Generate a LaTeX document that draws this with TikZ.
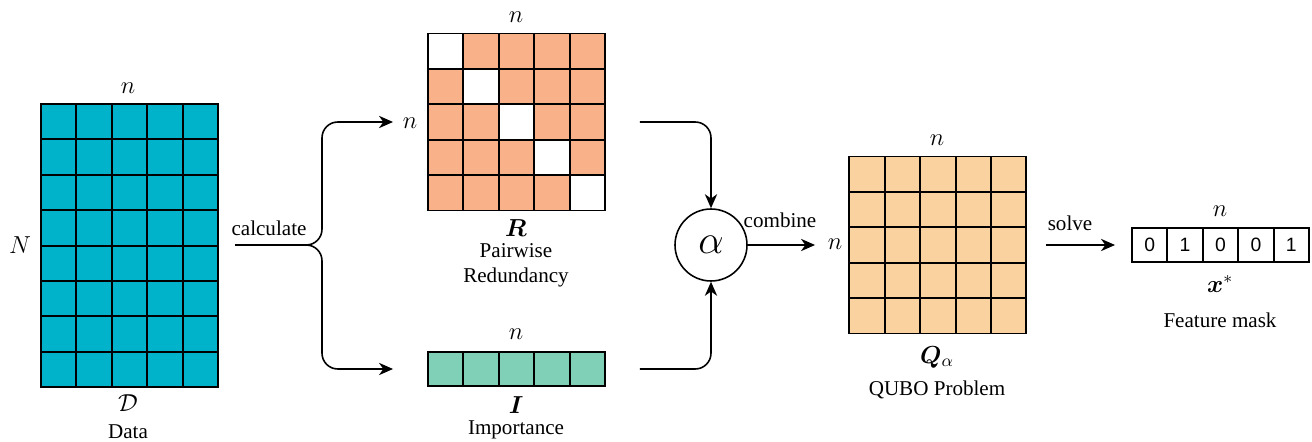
\documentclass[tikz,border=0pt]{standalone}
\usepackage{fix-cm}
\usepackage{amsmath}
\usepackage{bm}
\usepackage{fontspec}
\setmainfont{Liberation Serif}
\newfontfamily\digitfont{Liberation Sans}
\usetikzlibrary{arrows.meta}
\definecolor{datacol}{HTML}{00B2CA}
\definecolor{redcol}{HTML}{F8B188}
\definecolor{impcol}{HTML}{80D0B8}
\definecolor{qubocol}{HTML}{FAD2A0}
\tikzset{
  cellline/.style={black, line width=1.1pt},
  block/.style={draw, cellline, inner sep=0pt, outer sep=0pt},
  maskcell/.style={block, minimum width=0.708cm, minimum height=0.68cm, font=\digitfont\fontsize{11}{13}\selectfont},
  arrowline/.style={-{Stealth[length=8pt,width=7pt,inset=2.5pt]}, line width=0.9pt, rounded corners=9pt},
  lbl/.style={font=\fontsize{12}{14.2}\selectfont, align=center},
  mlbl/.style={font=\fontsize{14}{16}\selectfont},
}
\begin{document}
\begin{tikzpicture}[x=0.02cm, y=-0.02cm]
  \useasboundingbox (0,0) rectangle (1312,442);
  \def\cell{35.4}
  % data matrix
  \node[block, fill=datacol, minimum width=3.54cm, minimum height=5.664cm] (data) at (129.5,245.6) {};
  \foreach \i in {1,...,4} {
      \draw[cellline] (41+\i*\cell,104) -- (41+\i*\cell,387.2);
  }
  \foreach \j in {1,...,7} {
      \draw[cellline] (41,104+\j*\cell) -- (218,104+\j*\cell);
  }
  \node[mlbl] (datan) at (128,88) {$n$};
  \node[mlbl] (dataN) at (20,245) {$N$};
  \node[mlbl] (datasym) at (128,403) {$\mathcal{D}$};
  \node[lbl] (datatxt) at (128,432) {Data};
  % redundancy matrix
  \node[block, fill=redcol, minimum width=3.54cm, minimum height=3.54cm] (R) at (516.5,122) {};
  \foreach \k in {0,...,4} {
      \fill[white] (428+\k*\cell,33.5+\k*\cell) rectangle ++(\cell,\cell); % diagonal
  }
  \foreach \i in {1,...,4} {
      \draw[cellline] (428+\i*\cell,33.5) -- (428+\i*\cell,210.5);
      \draw[cellline] (428,33.5+\i*\cell) -- (605,33.5+\i*\cell);
  }
  \draw[cellline] (R.north west) rectangle (R.south east);
  \node[mlbl] (Rn) at (516,17) {$n$};
  \node[mlbl] (Rnl) at (410,123) {$n$};
  \node[mlbl] (Rsym) at (516,228) {$\bm{R}$};
  \node[lbl] (Rtxt) at (516,265) {Pairwise\\Redundancy};
  % importance vector
  \node[block, fill=impcol, minimum width=3.54cm, minimum height=0.68cm] (I) at (516.5,369) {};
  \foreach \i in {1,...,4} {
      \draw[cellline] (428+\i*\cell,352) -- (428+\i*\cell,386);
  }
  \node[mlbl] (In) at (516,334) {$n$};
  \node[mlbl] (Isym) at (516,405) {$\bm{I}$};
  \node[lbl] (Itxt) at (516,430) {Importance};
  % combination
  \node[circle, draw, line width=0.9pt, minimum size=1.44cm, inner sep=0pt,
        font=\fontsize{23}{27}\selectfont] (alpha) at (711,245) {$\alpha$};
  % QUBO matrix
  \node[block, fill=qubocol, minimum width=3.54cm, minimum height=3.54cm] (Q) at (937.5,245) {};
  \foreach \i in {1,...,4} {
      \draw[cellline] (849.5+\i*\cell,156.5) -- (849.5+\i*\cell,333.5);
      \draw[cellline] (849.5,156.5+\i*\cell) -- (1026.5,156.5+\i*\cell);
  }
  \node[mlbl] (Qn) at (937,140) {$n$};
  \node[mlbl] (Qnl) at (835,244) {$n$};
  \node[mlbl] (Qsym) at (937,357) {$\bm{Q}_{\alpha}$};
  \node[lbl] (Qtxt) at (937,390) {QUBO Problem};
  % feature mask
  \foreach \v [count=\k] in {0,1,0,0,1} {
      \node[maskcell] (m\k) at (1132+17.7+\k*\cell-\cell,245) {\v};
  }
  \node[mlbl] (mn) at (1220,211) {$n$};
  \node[mlbl] (msym) at (1220,284) {$\bm{x}^{*}$};
  \node[lbl] (mtxt) at (1220,320) {Feature mask};
  % connectors
  \coordinate (calcstart) at (235,245);
  \draw[arrowline] (calcstart) -- ++(87,0) |- ([xshift=-0.7cm]R.west);
  \draw[arrowline] (calcstart) -- ++(87,0) |- ([xshift=-0.7cm]I.west);
  \draw[arrowline] ([xshift=0.7cm]R.east) -| (alpha.north);
  \draw[arrowline] ([xshift=0.7cm]I.east) -| (alpha.south);
  \draw[arrowline] (alpha.east) -- ([xshift=-0.68cm]Q.west);
  \draw[arrowline] ([xshift=0.4cm]Q.east) -- ([xshift=-0.34cm]m1.west);
  \node[lbl] (calctxt) at (269,228) {calculate};
  \node[lbl] (combtxt) at (780,220) {combine};
  \node[lbl] (solvetxt) at (1070,223) {solve};
\end{tikzpicture}
\end{document}
